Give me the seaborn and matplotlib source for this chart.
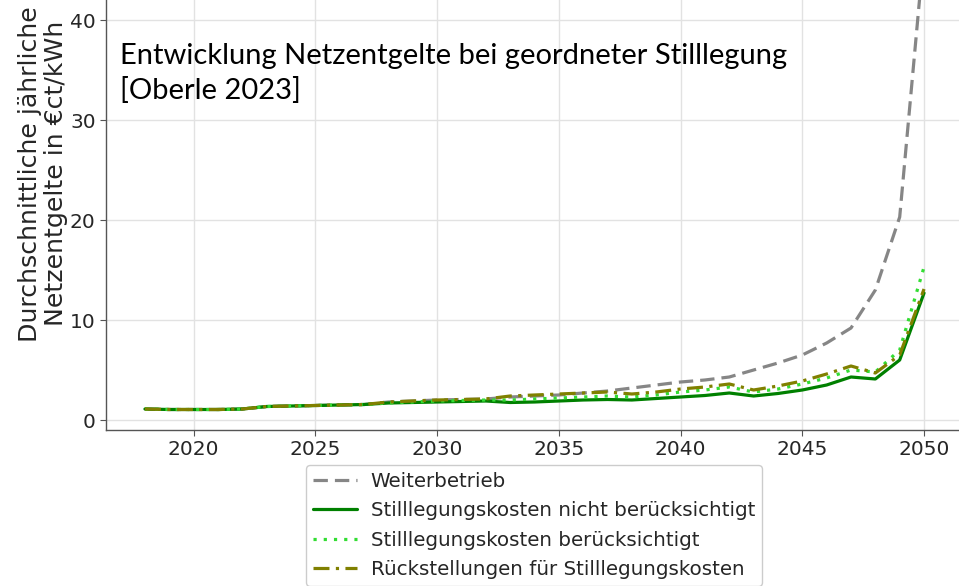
import pandas as pd
import matplotlib
matplotlib.use("Agg")
import matplotlib.pyplot as plt
import seaborn as sns

# Jahre und Netzentgelte (ct/kWh)
jahre = list(range(2018, 2051))

weiterbetrieb = [1.1, 1.05, 1.05, 1.05, 1.1, 1.35, 1.4, 1.45, 1.5, 1.55, 1.8,
                 1.9, 2.0, 2.05, 2.1, 2.3, 2.4, 2.5, 2.7, 2.9, 3.2, 3.5, 3.8,
                 4.0, 4.3, 5.0, 5.7, 6.5, 7.7, 9.2, 13.0, 20.3, 47.0]
nicht_beruecksichtigt = [1.1, 1.05, 1.05, 1.05, 1.1, 1.35, 1.4, 1.45, 1.5, 1.55, 1.7,
                         1.75, 1.8, 1.85, 1.9, 1.75, 1.8, 1.9, 2.0, 2.05, 2.0, 2.15, 2.3,
                         2.45, 2.7, 2.4, 2.65, 3.0, 3.5, 4.3, 4.1, 6.0, 12.7]
beruecksichtigt = [1.1, 1.05, 1.05, 1.05, 1.1, 1.35, 1.4, 1.45, 1.5, 1.55, 1.7,
                   1.8, 1.9, 1.95, 2.0, 2.0, 2.1, 2.2, 2.3, 2.4, 2.3, 2.5, 2.8,
                   3.0, 3.3, 2.8, 3.1, 3.6, 4.2, 5.0, 4.8, 7.0, 15.3]
rueckstellungen = [1.1, 1.05, 1.05, 1.05, 1.1, 1.35, 1.4, 1.45, 1.5, 1.55, 1.8,
                   1.9, 2.0, 2.05, 2.1, 2.4, 2.5, 2.6, 2.7, 2.8, 2.6, 2.8, 3.1,
                   3.3, 3.6, 3.0, 3.4, 3.9, 4.6, 5.4, 4.7, 6.5, 13.1]

szenarien = ["Weiterbetrieb",
             "Stilllegungskosten nicht berücksichtigt",
             "Stilllegungskosten berücksichtigt",
             "Rückstellungen für Stilllegungskosten"]
farben = ["#868686", "#008000", "#33dd33", "#808000"]
striche = [(4.5, 2.2), "", (1, 2.2), (5, 2, 1, 2)]

df = pd.concat([
    pd.DataFrame({"Jahr": jahre, "Wert": werte, "Szenario": name})
    for name, werte in zip(szenarien, [weiterbetrieb, nicht_beruecksichtigt,
                                       beruecksichtigt, rueckstellungen])
])

sns.set_theme(style="whitegrid", rc={
    "axes.edgecolor": "#555555",
    "grid.color": "#e2e2e2",
    "xtick.bottom": True,
    "ytick.left": True,
    "xtick.color": "#555555",
    "ytick.color": "#555555",
    "xtick.labelcolor": "#262626",
    "ytick.labelcolor": "#262626",
})
plt.rcParams["font.family"] = ["DejaVu Sans"]

fig = plt.figure(figsize=(9.59, 5.86), dpi=100)
ax = fig.add_axes([106 / 959, 156 / 586, 857 / 959, 460 / 586])

sns.lineplot(data=df, x="Jahr", y="Wert", hue="Szenario", style="Szenario",
             palette=dict(zip(szenarien, farben)),
             dashes=dict(zip(szenarien, striche)),
             hue_order=szenarien, style_order=szenarien,
             linewidth=2.3, ax=ax, legend=False)

ax.set_xlim(2016.4, 2051.6)
ax.set_ylim(-1, 45)
ax.set_yticks([0, 10, 20, 30, 40])
ax.set_xticks(range(2020, 2051, 5))
ax.tick_params(labelsize=14.5, length=4, width=0.8)
ax.set_xlabel("")
ax.set_ylabel("Durchschnittliche jährliche\nNetzentgelte in €ct/kWh",
              fontsize=18.2, color="#262626", linespacing=1.1)
ax.yaxis.set_label_coords(-0.0445, 0.557)
for s in ["left", "bottom"]:
    ax.spines[s].set_linewidth(1.0)

handles = ax.get_lines()[:4]
fig.legend(handles, szenarien, loc="upper center", bbox_to_anchor=(534 / 959, 1 - 465 / 586),
           borderaxespad=0, fontsize=14.3, handlelength=2.2, handletextpad=0.7,
           labelspacing=0.52, borderpad=0.35, frameon=True, edgecolor="#cccccc", framealpha=1)

fig.text(120 / 959, 1 - 64 / 586, "Entwicklung Netzentgelte bei geordneter Stilllegung",
         fontsize=21, family="Lato", va="baseline", color="black")
fig.text(120 / 959, 1 - 99 / 586, "[Oberle 2023]",
         fontsize=21, family="Lato", va="baseline", color="black")

fig.savefig("out.png", dpi=100)
